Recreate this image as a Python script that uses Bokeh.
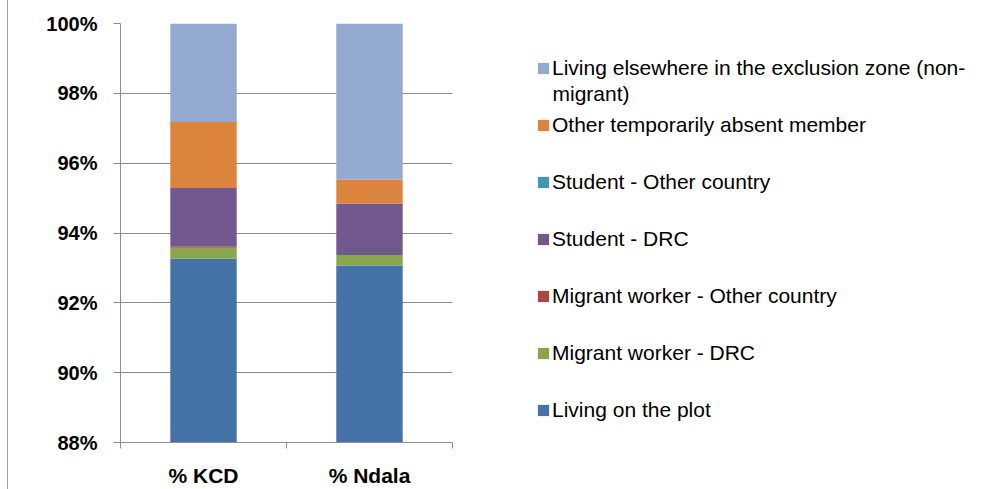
from bokeh.plotting import figure
from bokeh.models import (ColumnDataSource, FixedTicker, PrintfTickFormatter, Legend,
                          LegendItem, Range1d, Label, BoxAnnotation)
from bokeh.embed import file_html
from bokeh.resources import INLINE

categories = ["% KCD", "% Ndala"]
series = [
    "Living on the plot",
    "Migrant worker - DRC",
    "Migrant worker - Other country",
    "Student - DRC",
    "Student - Other country",
    "Other temporarily absent member",
    "Living elsewhere in the exclusion zone (non-",
]
series_wrap = "migrant)"
living_on_plot = [93.26, 93.07]
migrant_drc = [0.32, 0.30]
migrant_other = [0.04, 0.0]
student_drc = [1.67, 1.47]
student_other = [0.0, 0.0]
other_absent = [1.89, 0.69]
elsewhere = [2.82, 4.47]
colors = ["#4572A7", "#89A54E", "#AA4643", "#71588F", "#4198AF", "#DB843D", "#93A9CF"]
y_ticks = [88, 90, 92, 94, 96, 98, 100]

keys = ["s0", "s1", "s2", "s3", "s4", "s5", "s6"]
data = dict(x=[0.5, 1.5])
for k, vals in zip(keys, [living_on_plot, migrant_drc, migrant_other, student_drc,
                          student_other, other_absent, elsewhere]):
    data[k] = vals
source = ColumnDataSource(data)

FONT = "Liberation Sans"
GRAY = "#8c8c8c"
# frame spans to the right edge so the legend can sit inside it; one category = 166 px
p = figure(width=984, height=489, output_backend="svg", toolbar_location=None,
           x_range=Range1d(0, 872 / 166), y_range=Range1d(88, 100),
           min_border_left=112, min_border_right=0, min_border_top=23, min_border_bottom=46,
           styles={"margin-left": "7px", "border-left": "1px solid #a0a0a0"})
p.outline_line_color = None
renderers = p.vbar_stack(keys, x="x", width=0.4, color=colors, source=source, line_color=None)

p.xgrid.grid_line_color = None
p.ygrid.grid_line_color = GRAY
p.ygrid.ticker = FixedTicker(ticks=y_ticks)
# hide the grid lines beyond the category area (legend region)
p.add_layout(BoxAnnotation(left=2, fill_color="white", fill_alpha=1.0, line_color=None,
                           level="underlay"))

p.yaxis.ticker = FixedTicker(ticks=y_ticks)
p.yaxis.formatter = PrintfTickFormatter(format="%d%%")
p.yaxis.axis_line_color = GRAY
p.yaxis.major_tick_line_color = GRAY
p.yaxis.major_tick_out = 7
p.yaxis.major_tick_in = 0
p.yaxis.minor_tick_line_color = None
p.yaxis.major_label_standoff = 16
p.yaxis.major_label_text_font = FONT
p.yaxis.major_label_text_font_style = "bold"
p.yaxis.major_label_text_font_size = "20px"
p.yaxis.major_label_text_color = "#000000"

p.xaxis.bounds = (0, 2)
p.xaxis.ticker = FixedTicker(ticks=[0.5, 1.5], minor_ticks=[0, 1, 2])
p.xaxis.major_label_overrides = {0.5: categories[0], 1.5: categories[1]}
p.xaxis.axis_line_color = GRAY
p.xaxis.major_tick_line_color = None
p.xaxis.major_tick_out = 0
p.xaxis.major_tick_in = 0
p.xaxis.minor_tick_line_color = GRAY
p.xaxis.minor_tick_out = 6
p.xaxis.minor_tick_in = 0
p.xaxis.major_label_standoff = 15
p.xaxis.major_label_text_font = FONT
p.xaxis.major_label_text_font_style = "bold"
p.xaxis.major_label_text_font_size = "21px"
p.xaxis.major_label_text_color = "#000000"

items = [LegendItem(label=series[i], renderers=[renderers[i]]) for i in range(6, -1, -1)]
legend = Legend(items=items, location=(416, 20), orientation="vertical",
                label_text_font=FONT, label_text_font_size="21px", label_text_color="#000000",
                glyph_width=14, glyph_height=14, label_standoff=2, label_height=24,
                spacing=33, padding=0, margin=0, border_line_color=None,
                background_fill_alpha=0)
p.add_layout(legend, "center")

wrap = Label(x=(552 - 120) / 166, y=98.0, text=series_wrap, text_font=FONT,
             text_font_size="21px", text_color="#000000", text_baseline="middle")
p.add_layout(wrap)

open("out.html", "w").write(file_html(p, INLINE))
